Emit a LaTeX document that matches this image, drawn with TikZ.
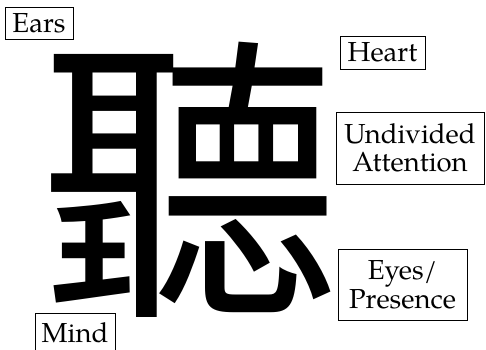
\documentclass[tikz,border=0pt]{standalone}
\usepackage{fontspec}
\setmainfont{TeX Gyre Pagella}
\newfontfamily\cjk{Noto Sans CJK TC}
\begin{document}
\begin{tikzpicture}[x=1pt,y=-1pt,
  lbl/.style={draw=black, line width=0.8pt, rectangle, inner sep=0pt,
    font=\fontsize{27.5}{28.5}\selectfont, align=center},
  glyph/.style={inner sep=0pt, font=\cjk\fontsize{300}{300}\selectfont}]
\path[use as bounding box] (0,0) rectangle (486,349);
\clip (0,0) rectangle (486,349);
\node[glyph] (ting) at (190,179.5) {聽};
\node[lbl, minimum width=68pt, minimum height=32pt] (ears) at (39,23) {Ears};
\node[lbl, minimum width=85pt, minimum height=33pt] (heart) at (382.5,52.5) {Heart};
\node[lbl, minimum width=148pt, minimum height=72pt] (undiv) at (410,148) {Undivided\\Attention};
\node[lbl, minimum width=129pt, minimum height=71pt] (eyes) at (402.5,284.5) {Eyes/\\Presence};
\node[lbl, minimum width=80pt, minimum height=40pt] (mind) at (75,333) {Mind};
\end{tikzpicture}
\end{document}
